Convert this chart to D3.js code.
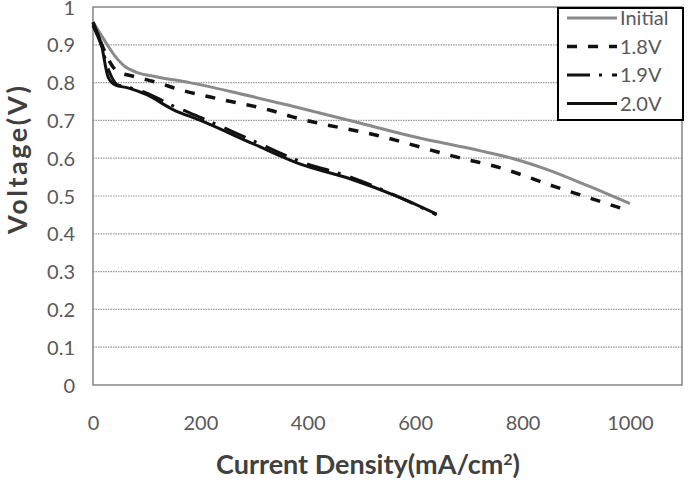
<!DOCTYPE html>
<html>
<head>
<meta charset="utf-8">
<script src="https://cdn.jsdelivr.net/npm/d3@7"></script>
<style>
  body { margin: 0; background: #fff; }
  text { font-family: Lato, "Open Sans", sans-serif; }
</style>
</head>
<body>
<svg width="688" height="482"></svg>
<script>
// current density (mA/cm2) and voltage (V)
const initialI = [0, 20, 40, 60, 80, 120, 180, 270, 370, 500, 600, 720, 780, 850, 920, 1000];
const initialV = [0.96, 0.915, 0.872, 0.842, 0.828, 0.815, 0.80, 0.772, 0.738, 0.692, 0.656, 0.62, 0.60, 0.568, 0.528, 0.48];

const v18I = [0, 15, 30, 45, 80, 120, 160, 240, 330, 370, 530, 700, 740, 860, 1000];
const v18V = [0.96, 0.905, 0.858, 0.83, 0.815, 0.80, 0.782, 0.755, 0.727, 0.71, 0.66, 0.595, 0.582, 0.525, 0.46];

const v19I = [0, 15, 30, 45, 65, 100, 150, 200, 300, 385, 480, 570, 640];
const v19V = [0.95, 0.9, 0.83, 0.795, 0.788, 0.772, 0.738, 0.708, 0.645, 0.592, 0.55, 0.497, 0.45];

const v20I = [0, 15, 28, 41, 65, 100, 150, 200, 300, 385, 480, 570, 640];
const v20V = [0.955, 0.905, 0.815, 0.794, 0.786, 0.768, 0.728, 0.70, 0.637, 0.585, 0.545, 0.497, 0.452];

const seriesNames = ['Initial', '1.8V', '1.9V', '2.0V'];
const xTicks = [0, 200, 400, 600, 800, 1000];
const yTicks = [0, 0.1, 0.2, 0.3, 0.4, 0.5, 0.6, 0.7, 0.8, 0.9, 1];

const svg = d3.select('svg');
const width = +svg.attr('width');
const height = +svg.attr('height');

const margin = {top: 7, right: 6, bottom: 97, left: 93};
const innerWidth = width - margin.left - margin.right;
const innerHeight = height - margin.top - margin.bottom;

const xScale = d3.scaleLinear().domain([0, 1097]).range([0, innerWidth]);
const yScale = d3.scaleLinear().domain([0, 1]).range([innerHeight, 0]);

const g = svg.append('g')
  .attr('transform', `translate(${margin.left},${margin.top})`);

// dotted gridlines
g.selectAll('.grid').data(yTicks.filter(d => d > 0 && d < 1))
  .enter().append('line')
    .attr('x1', 0).attr('x2', innerWidth)
    .attr('y1', d => yScale(d)).attr('y2', d => yScale(d))
    .attr('stroke', '#9a9a9a')
    .attr('stroke-width', 1.2)
    .attr('stroke-dasharray', '1.5,1');

// axes
const yAxis = d3.axisLeft(yScale).tickValues(yTicks).tickSize(0).tickPadding(18)
  .tickFormat(d3.format('~g'));
const xAxis = d3.axisBottom(xScale).tickValues(xTicks).tickSize(0).tickPadding(30)
  .tickFormat(d3.format('d'));

const yG = g.append('g').call(yAxis);
const xG = g.append('g').attr('transform', `translate(0,${innerHeight})`).call(xAxis);
[yG, xG].forEach(a => {
  a.attr('font-size', 20).attr('font-family', 'Lato, sans-serif');
  a.select('.domain').remove();
  a.selectAll('text').attr('fill', '#595959');
});
// baseline offsets in px instead of em
yG.selectAll('text').attr('dy', null).attr('y', 7);
xG.selectAll('text').attr('dy', null).attr('y', 45);

// plot border
g.append('rect')
  .attr('width', innerWidth).attr('height', innerHeight)
  .attr('fill', 'none').attr('stroke', '#858585').attr('stroke-width', 1.5);

const styles = [
  {color: '#8a8a8a', width: 3, dash: null},
  {color: '#111', width: 3.5, dash: '10,11'},
  {color: '#111', width: 3, dash: '23,9,3,10'},
  {color: '#111', width: 3, dash: null}
];

const series = [
  initialI.map((x, i) => [x, initialV[i]]),
  v18I.map((x, i) => [x, v18V[i]]),
  v19I.map((x, i) => [x, v19V[i]]),
  v20I.map((x, i) => [x, v20V[i]])
];

const line = d3.line()
  .x(d => xScale(d[0]))
  .y(d => yScale(d[1]))
  .curve(d3.curveMonotoneX);

g.selectAll('.series').data(series)
  .enter().append('path')
    .attr('d', line)
    .attr('fill', 'none')
    .attr('stroke', (d, i) => styles[i].color)
    .attr('stroke-width', (d, i) => styles[i].width)
    .attr('stroke-dasharray', (d, i) => styles[i].dash)
    .attr('stroke-linejoin', 'round');

// legend
const legend = svg.append('g').attr('transform', 'translate(558,8)');
legend.append('rect')
  .attr('width', 125).attr('height', 112)
  .attr('fill', '#fff').attr('stroke', '#000').attr('stroke-width', 2);

const items = legend.selectAll('.item').data(seriesNames)
  .enter().append('g')
    .attr('transform', (d, i) => `translate(0,${10 + i * 28.5})`);
items.append('line')
  .attr('x1', 9).attr('x2', 59)
  .attr('stroke', (d, i) => styles[i].color)
  .attr('stroke-width', (d, i) => styles[i].width)
  .attr('stroke-dasharray', (d, i) => styles[i].dash);
items.append('text')
  .attr('x', 62).attr('y', 7)
  .attr('fill', '#595959')
  .attr('font-size', 20)
  .text(d => d);

// axis titles
svg.append('text')
  .attr('transform', 'translate(27,160) rotate(-90)')
  .attr('text-anchor', 'middle')
  .attr('fill', '#404040')
  .attr('textLength', 148)
  .attr('font-size', 27).attr('font-weight', 'bold')
  .text('Voltage(V)');

const xTitle = svg.append('text')
  .attr('x', 368).attr('y', 474)
  .attr('text-anchor', 'middle')
  .attr('fill', '#404040')
  .attr('font-size', 27).attr('font-weight', 'bold')
  .text('Current Density(mA/cm');
xTitle.append('tspan').attr('baseline-shift', 'super').attr('font-size', 16).text('2');
xTitle.append('tspan').text(')');
</script>
</body>
</html>
